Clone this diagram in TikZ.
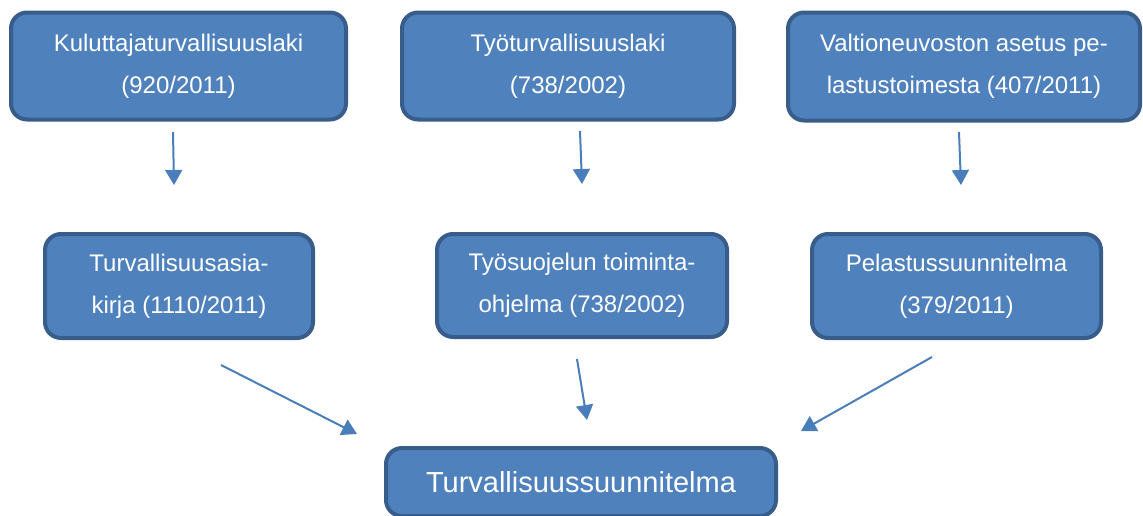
\documentclass[tikz,border=0pt]{standalone}
\usepackage{fontspec}
\setmainfont{Liberation Sans}
\usetikzlibrary{arrows.meta}
\definecolor{boxfill}{HTML}{4F81BD}
\definecolor{boxline}{HTML}{385D8A}
\definecolor{arrowcol}{HTML}{4A7EBB}
\begin{document}
\begin{tikzpicture}[x=1pt,y=-1pt,
  lawbox/.style={draw=boxline, fill=boxfill, line width=4pt, rounded corners=16pt,
    text=white, align=center, inner sep=0pt,
    font=\fontsize{24}{42}\selectfont},
  conn/.style={draw=arrowcol, line width=2pt,
    -{Triangle[width=17pt,length=15pt]}}]
\useasboundingbox (0,0) rectangle (1143,515);
\clip (0,0) rectangle (1143,515);
\node[lawbox, minimum width=335pt, minimum height=107pt] (b1) at (178.5,66) {Kuluttajaturvallisuuslaki\\(920/2011)};
\node[lawbox, minimum width=332pt, minimum height=107pt] (b2) at (568,66) {Työturvallisuuslaki\\(738/2002)};
\node[lawbox, minimum width=352pt, minimum height=108pt] (b3) at (964,66.5) {Valtioneuvoston asetus pe-\\lastustoimesta (407/2011)};
\node[lawbox, minimum width=268pt, minimum height=104pt] (b4) at (179,286) {Turvallisuusasia-\\kirja (1110/2011)};
\node[lawbox, minimum width=290pt, minimum height=103pt] (b5) at (582,285.5) {Työsuojelun toiminta-\\ohjelma (738/2002)};
\node[lawbox, minimum width=289pt, minimum height=104pt] (b6) at (956.5,286) {Pelastussuunnitelma\\(379/2011)};
\node[lawbox, minimum width=390pt, minimum height=68pt, font=\fontsize{29}{35}\selectfont] (b7) at (581,482) {Turvallisuussuunnitelma};
\coordinate (a1s) at (173,132);
\coordinate (a1e) at (174,185);
\coordinate (a2s) at (580,131);
\coordinate (a2e) at (582,184);
\coordinate (a3s) at (959,132);
\coordinate (a3e) at (961,185);
\coordinate (a4s) at (221,365);
\coordinate (a4e) at (357,434);
\coordinate (a5s) at (577,359);
\coordinate (a5e) at (587,420);
\coordinate (a6s) at (932,357);
\coordinate (a6e) at (801,431);
\draw[conn] (a1s) -- (a1e);
\draw[conn] (a2s) -- (a2e);
\draw[conn] (a3s) -- (a3e);
\draw[conn] (a4s) -- (a4e);
\draw[conn] (a5s) -- (a5e);
\draw[conn] (a6s) -- (a6e);
\end{tikzpicture}
\end{document}
